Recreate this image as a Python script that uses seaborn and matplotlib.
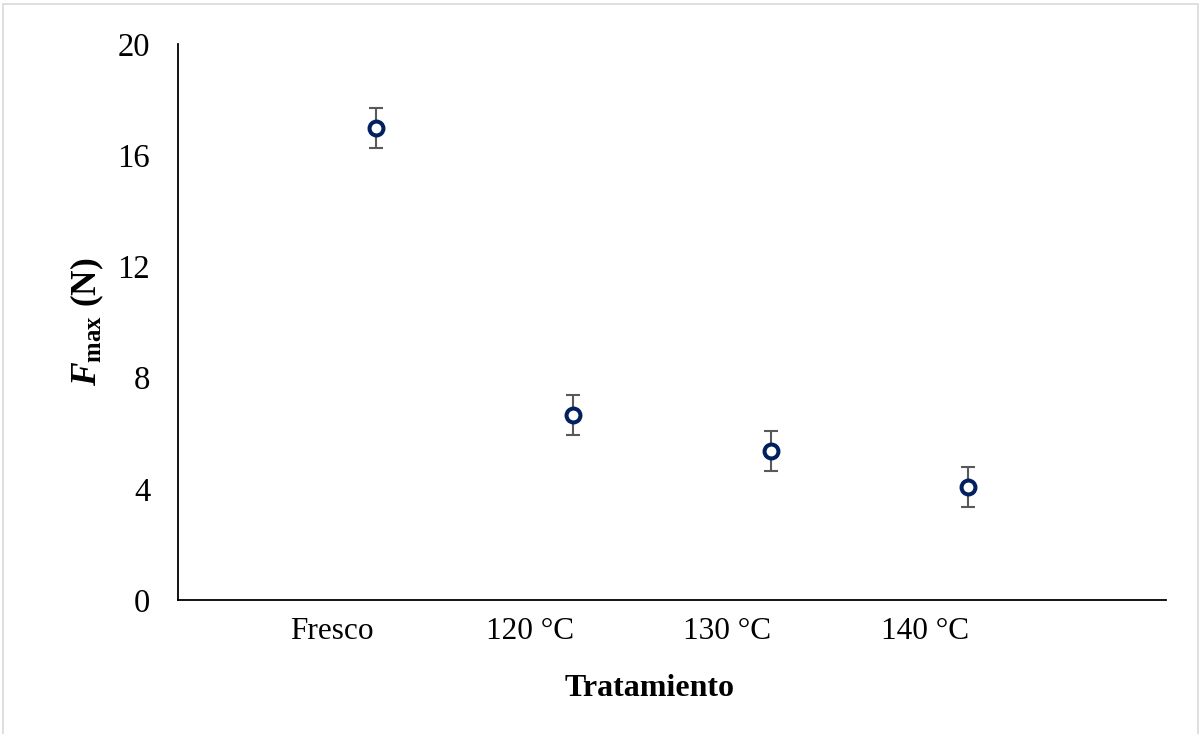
import matplotlib
matplotlib.use("Agg")
import matplotlib.pyplot as plt
from matplotlib.patches import Rectangle
import seaborn as sns
import pandas as pd

# Data
tratamientos = ["Fresco", "120 °C", "130 °C", "140 °C"]
fmax = [16.98, 6.65, 5.36, 4.06]
fmax_err = [0.73, 0.72, 0.72, 0.73]
y_ticks = [0, 4, 8, 12, 16, 20]

sns.set_theme(style="white")
plt.rcParams["font.family"] = ["Liberation Serif", "DejaVu Serif"]
plt.rcParams["mathtext.fontset"] = "custom"
plt.rcParams["mathtext.rm"] = "Liberation Serif"
plt.rcParams["mathtext.it"] = "Liberation Serif:italic"
plt.rcParams["mathtext.bf"] = "Liberation Serif:bold"
plt.rcParams["mathtext.bfit"] = "Liberation Serif:bold:italic"

df = pd.DataFrame({"pos": range(1, len(tratamientos) + 1),
                   "Tratamiento": tratamientos,
                   "Fmax": fmax, "err": fmax_err})

fig = plt.figure(figsize=(12.01, 7.34), dpi=100)
ax = fig.add_axes([178 / 1201, 1 - 600 / 734, (1166 - 178) / 1201, (600 - 44) / 734])

ax.errorbar(df["pos"], df["Fmax"], yerr=df["err"], fmt="none",
            ecolor="#595959", elinewidth=1.5, capsize=4.8, capthick=1.5, zorder=2)
sns.scatterplot(data=df, x="pos", y="Fmax", ax=ax, marker="o", s=100,
                facecolor="white", edgecolor="#002060", linewidth=2.9, zorder=3)

ax.set_xlim(0, 5)
ax.set_ylim(0, 20)
ax.set_yticks(y_ticks)
ax.set_yticklabels([str(v) for v in y_ticks], fontsize=23.5)
# category labels sit a little left of their markers
ax.set_xticks(df["pos"] - 0.22)
ax.set_xticklabels(tratamientos, fontsize=22.5)
ax.tick_params(axis="both", length=0, colors="black")
ax.tick_params(axis="y", pad=20)
ax.tick_params(axis="x", pad=12)

for side in ["top", "right"]:
    ax.spines[side].set_visible(False)
for side in ["left", "bottom"]:
    ax.spines[side].set_color("black")
    ax.spines[side].set_linewidth(1.3)

ax.set_xlabel("Tratamiento", fontsize=23, fontweight="bold", color="black")
ax.xaxis.set_label_coords((650 - 178) / 988, -0.133)
ax.set_ylabel(r"$\mathbfit{F}_{\mathbf{max}}$ (N)", fontsize=25.5, fontweight="bold",
              color="black", labelpad=8)

fig.patches.append(Rectangle((3 / 1201, -0.02), 1195 / 1201, 1.02 - 4 / 734,
                             transform=fig.transFigure, fill=False,
                             edgecolor="#d9d9d9", linewidth=1.2))

fig.savefig("out.png", dpi=100)
